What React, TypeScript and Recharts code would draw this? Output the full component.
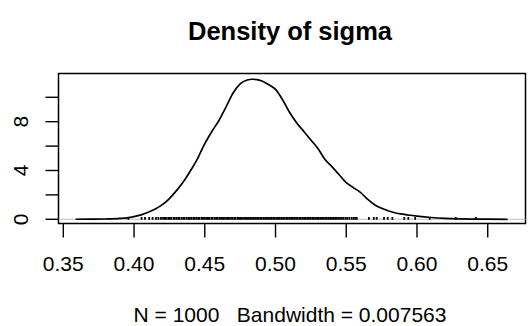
import {
  ComposedChart,
  Line,
  Scatter,
  XAxis,
  YAxis,
  ReferenceLine,
  ReferenceArea,
} from "recharts";

document.body.style.margin = "0";

const title = "Density of sigma";
const subtitle = "N = 1000   Bandwidth = 0.007563";

const xTicks = [0.35, 0.4, 0.45, 0.5, 0.55, 0.6, 0.65];
const yTicks = [0, 2, 4, 6, 8, 10];
const yLabelled = [0, 4, 8];

// density curve
const densityX = [
  0.3587, 0.37, 0.38, 0.39, 0.395, 0.4, 0.405, 0.41, 0.415, 0.42, 0.425, 0.43,
  0.435, 0.44, 0.445, 0.45, 0.455, 0.46, 0.465, 0.47, 0.475, 0.48, 0.4835,
  0.487, 0.49, 0.495, 0.5, 0.505, 0.51, 0.515, 0.52, 0.525, 0.53, 0.535, 0.54,
  0.545, 0.55, 0.555, 0.56, 0.565, 0.57, 0.575, 0.58, 0.585, 0.59, 0.595, 0.6,
  0.61, 0.62, 0.63, 0.64, 0.65, 0.664,
];
const densityY = [
  0.003, 0.01, 0.025, 0.07, 0.12, 0.22, 0.36, 0.58, 0.85, 1.2, 1.7, 2.35, 3.1,
  4.0, 5.0, 6.2, 7.2, 8.1, 9.2, 10.35, 11.1, 11.42, 11.48, 11.45, 11.35, 11.05,
  10.65, 9.8, 8.75, 7.9, 7.2, 6.5, 5.8, 4.9, 4.3, 3.65, 3.0, 2.6, 2.2, 1.65,
  1.2, 0.9, 0.68, 0.52, 0.42, 0.33, 0.26, 0.15, 0.08, 0.04, 0.02, 0.01, 0.002,
];

// observation marks along the zero line
const obsX = [
  0.396, 0.4053, 0.4077, 0.4107, 0.4131, 0.4155, 0.4172, 0.419,
  0.4205, 0.4218, 0.4226, 0.4241, 0.4252, 0.4263, 0.4279, 0.4288, 0.4301,
  0.4313, 0.4322, 0.4337, 0.4349, 0.4356, 0.4371, 0.4383, 0.4394, 0.4405,
  0.4419, 0.4428, 0.444, 0.4453, 0.4461, 0.4476, 0.4487, 0.4498, 0.451,
  0.4522, 0.4531, 0.4546, 0.4555, 0.4569, 0.458, 0.4591, 0.4604, 0.4615,
  0.4627, 0.4636, 0.465, 0.4662, 0.4671, 0.4685, 0.4696, 0.4708, 0.4717,
  0.4731, 0.4742, 0.4754, 0.4763, 0.4777, 0.4788, 0.4799, 0.4812, 0.4823,
  0.4834, 0.4846, 0.4857, 0.4869, 0.488, 0.4892, 0.4903, 0.4915, 0.4926,
  0.4938, 0.4949, 0.4961, 0.4972, 0.4984, 0.4995, 0.5007, 0.5018, 0.503,
  0.5041, 0.5053, 0.5064, 0.5076, 0.5087, 0.5099, 0.511, 0.5122, 0.5133,
  0.5145, 0.5156, 0.5168, 0.5179, 0.5191, 0.5202, 0.5214, 0.5225, 0.5237,
  0.5248, 0.526, 0.5271, 0.5283, 0.5294, 0.5306, 0.5317, 0.5329, 0.534,
  0.5352, 0.5363, 0.5375, 0.5386, 0.5398, 0.5409, 0.5421, 0.5432, 0.5444,
  0.5456, 0.5469, 0.5481, 0.5495, 0.5507, 0.5522, 0.5538, 0.5551, 0.5563,
  0.5574, 0.566, 0.5695, 0.5715, 0.5767, 0.5793, 0.5826, 0.591, 0.5939,
  0.5987, 0.609, 0.6274, 0.6416,
];

const densityData = densityX.map((x, i) => ({ x, d: densityY[i] }));
const obsData = obsX.map((x) => ({ x, y: 0 }));

const X_DOMAIN: [number, number] = [0.3466, 0.6767];
const Y_DOMAIN: [number, number] = [-0.344, 11.95];
const FONT = "'Liberation Sans', Arial, Helvetica, sans-serif";

const XTick = ({ x, payload }: any) => (
  <text x={x} y={270.7} textAnchor="middle" fontFamily={FONT} fontSize={21} fill="#000">
    {payload.value.toFixed(2)}
  </text>
);

const YTick = ({ y, payload }: any) => {
  if (!yLabelled.includes(payload.value)) return null;
  return (
    <text
      x={28.5}
      y={y}
      transform={`rotate(-90, 28.5, ${y})`}
      textAnchor="middle"
      fontFamily={FONT}
      fontSize={21}
      fill="#000"
    >
      {payload.value}
    </text>
  );
};

const ObsMark = ({ cx, cy }: any) => (
  <line x1={cx} x2={cx} y1={cy + 0.5} y2={cy - 2.2} stroke="#000" strokeWidth={1.8} />
);

export default function App() {
  return (
    <div style={{ position: "relative", width: 528, height: 326, background: "#fff" }}>
      <ComposedChart
        width={528}
        height={326}
        margin={{ top: 73.5, right: 2.5, left: 0, bottom: 52.5 }}
      >
        <XAxis
          type="number"
          dataKey="x"
          domain={X_DOMAIN}
          allowDataOverflow
          ticks={xTicks}
          interval={0}
          height={50}
          axisLine={false}
          tickSize={14}
          tickLine={{ stroke: "#000", strokeWidth: 1.4 }}
          tick={<XTick />}
        />
        <YAxis
          type="number"
          domain={Y_DOMAIN}
          allowDataOverflow
          ticks={yTicks}
          interval={0}
          width={58.5}
          axisLine={false}
          tickSize={13}
          tickLine={{ stroke: "#000", strokeWidth: 1.4 }}
          tick={<YTick />}
        />
        <ReferenceLine y={0} stroke="#bebebe" strokeWidth={1} />
        <Scatter
          data={obsData}
          dataKey="y"
          shape={<ObsMark />}
          isAnimationActive={false}
        />
        <Line
          data={densityData}
          dataKey="d"
          type="monotone"
          stroke="#000"
          strokeWidth={1.7}
          dot={false}
          activeDot={false}
          isAnimationActive={false}
        />
        <ReferenceArea
          x1={X_DOMAIN[0]}
          x2={X_DOMAIN[1]}
          y1={Y_DOMAIN[0]}
          y2={Y_DOMAIN[1]}
          fill="none"
          fillOpacity={0}
          stroke="#000"
          strokeWidth={1.5}
        />
      </ComposedChart>
      <svg
        width={528}
        height={326}
        style={{ position: "absolute", left: 0, top: 0, pointerEvents: "none" }}
      >
        <text x={290} y={40} textAnchor="middle" fontFamily={FONT} fontSize={25.5} fontWeight="bold" fill="#000">
          {title}
        </text>
        <text
          x={290}
          y={321.5}
          textAnchor="middle"
          fontFamily={FONT}
          fontSize={21}
          fill="#000"
          style={{ whiteSpace: "pre" }}
        >
          {subtitle}
        </text>
      </svg>
    </div>
  );
}
